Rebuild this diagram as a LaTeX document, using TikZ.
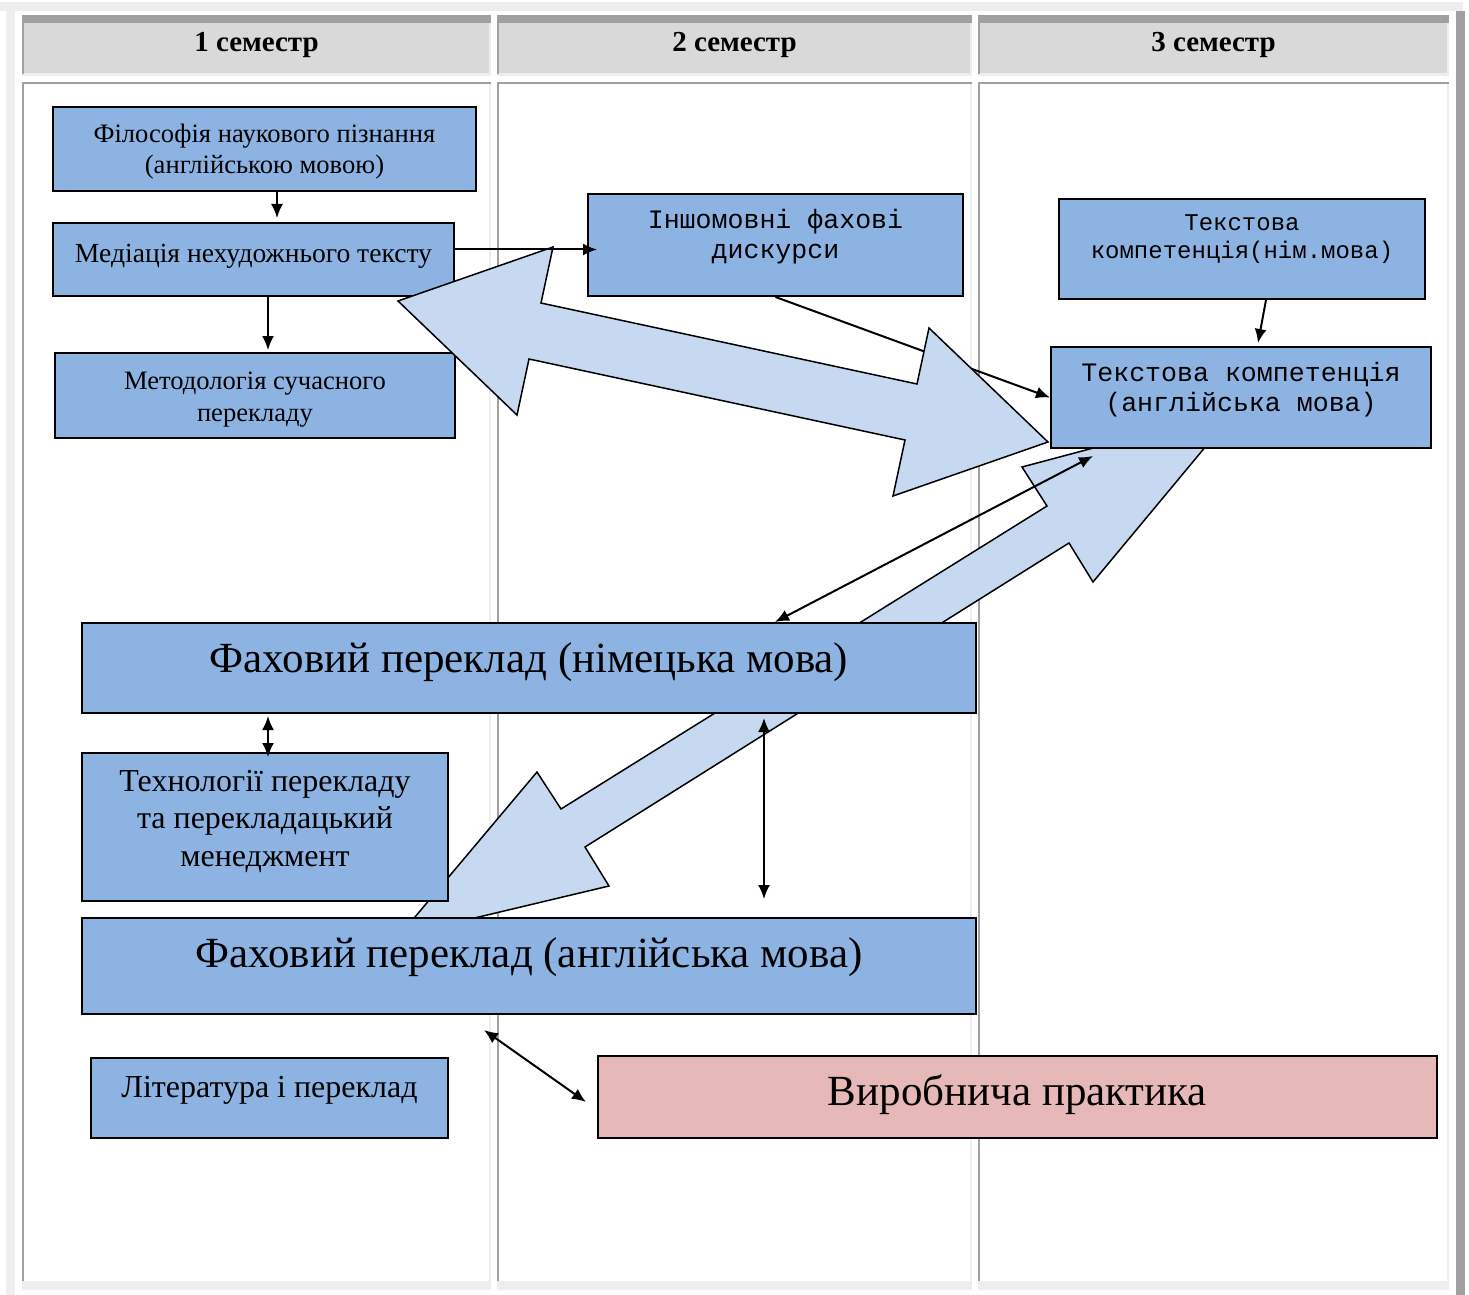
\documentclass[tikz,border=0pt]{standalone}
\usepackage{fontspec}
\setmainfont{Liberation Serif}
\setmonofont{Liberation Mono}
\usepackage{tikz}
\usetikzlibrary{arrows.meta,positioning}
\usepackage{xcolor}

\definecolor{boxblue}{RGB}{141,179,226}
\definecolor{fatblue}{RGB}{198,217,241}
\definecolor{rose}{RGB}{230,184,183}
\definecolor{hdrgray}{RGB}{217,217,217}
\definecolor{edgedark}{RGB}{160,160,160}
\definecolor{edgelight}{RGB}{238,238,238}

\begin{document}
\begin{tikzpicture}[x=0.5pt, y=-0.5pt, >={Latex[length=7pt,width=6pt]},
    box/.style={draw, line width=1pt, fill=boxblue, align=center, inner sep=0pt, anchor=north west},
    link/.style={line width=1pt},
    fat/.style={draw, line width=0.75pt, fill=fatblue},
    hdr/.style={anchor=base, font=\bfseries\fontsize{14.5}{17}\selectfont},
    serifmid/.style={font=\fontsize{13.3}{15.5}\selectfont},
    monomid/.style={font=\ttfamily\fontsize{13.3}{15}\selectfont},
    seriflarge/.style={font=\fontsize{21.5}{25}\selectfont}]
    \useasboundingbox (0,0) rectangle (1469,1295);
    \fill[white] (0,0) rectangle (1469,1295);

    % table frame
    \fill[edgelight] (0,2) rectangle (1463,11);
    \fill[edgelight] (6,11) rectangle (15,1295);
    \fill[edgedark] (1456,11) rectangle (1465,1295);
    \foreach \a/\b in {22/491, 497/972, 978/1449} {
        \fill[edgelight] (\a,15) rectangle (\b,76);
        \fill[edgedark] (\a,15) rectangle (\b,23);
        \fill[edgedark] (\a,23) rectangle (\a+2,74);
        \fill[hdrgray] (\a+2,23) rectangle (\b-2,73);
        \fill[edgelight] (\a,82) rectangle (\b,1290);
        \fill[edgedark] (\a,82) rectangle (\b,84);
        \fill[edgedark] (\a,84) rectangle (\a+2,1281);
        \fill[white] (\a+2,84) rectangle (\b-2,1281);
    }
    \node[hdr] (sem1) at (256.5,52) {1 семестр};
    \node[hdr] (sem2) at (734.5,52) {2 семестр};
    \node[hdr] (sem3) at (1213.5,52) {3 семестр};

    % wide arrow behind the boxes
    \draw[fat] (1236,410) -- (1022,467) -- (1047,506) -- (561,809) -- (537,772) -- (399,936)
        -- (609,886) -- (585,847) -- (1069,543) -- (1093,582) -- cycle;

    % boxes
    \node[box, serifmid, minimum width=211.5pt, text height=33.5pt, text depth=8.5pt] (phil) at (52,106) {Філософія наукового пізнання\\(англійською мовою)};
    \node[box, font=\fontsize{13.8}{16}\selectfont, minimum width=200.5pt, text height=20pt, text depth=16.5pt] (med) at (52,222) {Медіація нехудожнього тексту};
    \node[box, font=\fontsize{13.3}{16}\selectfont, minimum width=200pt, text height=34pt, text depth=8.5pt] (meth) at (54,352) {Методологія сучасного\\перекладу};
    \node[box, monomid, minimum width=187.5pt, text height=32pt, text depth=19pt] (insh) at (587,193) {Іншомовні фахові\\дискурси};
    \node[box, font=\ttfamily\fontsize{12}{13.5}\selectfont, minimum width=183pt, text height=29.5pt, text depth=20.5pt] (tkde) at (1058,198) {Текстова\\компетенція(нім.мова)};
    \node[box, monomid, minimum width=190pt, text height=32pt, text depth=18.5pt] (tken) at (1050,346) {Текстова компетенція\\(англійська мова)};
    \node[box, seriflarge, minimum width=447pt, text height=24.5pt, text depth=20.5pt] (trde) at (81,622) {Фаховий переклад (німецька мова)};
    \node[box, font=\fontsize{16}{18.75}\selectfont, minimum width=183pt, text height=56.5pt, text depth=17.5pt] (tech) at (81,752) {Технології перекладу\\та перекладацький\\менеджмент};
    \node[box, seriflarge, minimum width=447pt, text height=24.5pt, text depth=23.5pt] (tren) at (81,917) {Фаховий переклад (англійська мова)};
    \node[box, font=\fontsize{16}{18}\selectfont, minimum width=178.5pt, text height=19.5pt, text depth=20.5pt] (lit) at (90,1057) {Література і переклад};
    \node[box, seriflarge, fill=rose, minimum width=419.5pt, text height=24.5pt, text depth=16.5pt] (prac) at (597,1055) {Виробнича практика};

    \draw[link,->] (insh.south) -- (tken.west);

    % wide arrow over the boxes
    \draw[fat] (398,301) -- (553,247) -- (541,303) -- (917,384) -- (929,328) -- (1048,442)
        -- (893,496) -- (905,440) -- (529,359) -- (517,415) -- cycle;

    % connectors
    \draw[link,->] ([xshift=6.25pt]phil.south) -- ([xshift=11.75pt,yshift=2pt]med.north);
    \draw[link,->] ([xshift=7.25pt]med.south) -- ([xshift=6.5pt,yshift=1pt]meth.north);
    \draw[link,->] ([yshift=5pt]med.east) -- ([xshift=5pt,yshift=-2.25pt]insh.west);
    \draw[link,->] ([xshift=12pt]tkde.south) -- ([xshift=8.5pt,yshift=1.5pt]tken.north);
    \draw[link,<->] ([xshift=123pt]trde.north) -- ([xshift=-74pt,yshift=-3.5pt]tken.south);
    \draw[link,<->] ([xshift=-130.5pt,yshift=-1pt]trde.south) -- ([xshift=1.5pt,yshift=-2.5pt]tech.north);
    \draw[link,<->] ([xshift=117.5pt,yshift=-2pt]trde.south) -- ([xshift=117.5pt,yshift=9pt]tren.north);
    \draw[link,<->] ([xshift=-22.5pt,yshift=-7.5pt]tren.south) -- ([xshift=-5.5pt,yshift=-2.5pt]prac.west);
\end{tikzpicture}
\end{document}
